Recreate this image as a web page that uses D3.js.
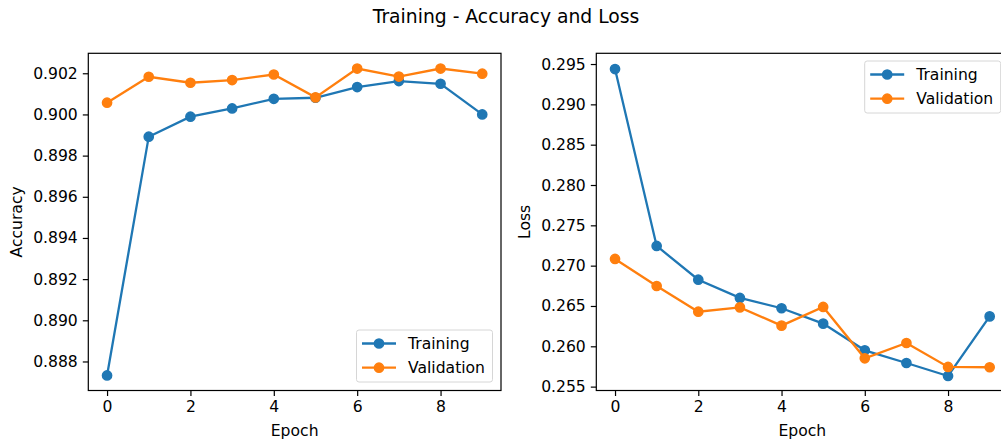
<!DOCTYPE html>
<html>
<head>
<meta charset="utf-8">
<script src="https://cdn.jsdelivr.net/npm/d3@7"></script>
<style>
  body { margin: 0; background: #fff; }
  text { font-family: "DejaVu Sans", sans-serif; fill: #000; }
</style>
</head>
<body>
<div id="chart-area"></div>
<script>
var epochs = [0, 1, 2, 3, 4, 5, 6, 7, 8, 9];
var trainAcc = [0.88732, 0.89892, 0.89989, 0.90029, 0.90076, 0.90081, 0.90133, 0.90162, 0.90149, 0.90000];
var valAcc = [0.90057, 0.90183, 0.90154, 0.90167, 0.90194, 0.90083, 0.90223, 0.90184, 0.90223, 0.90198];
var trainLoss = [0.29438, 0.27244, 0.26826, 0.26600, 0.26472, 0.26281, 0.25950, 0.25793, 0.25632, 0.26371];
var valLoss = [0.27083, 0.26748, 0.26429, 0.26483, 0.26256, 0.26488, 0.25851, 0.26041, 0.25744, 0.25740];
var xTicks = [0, 2, 4, 6, 8];
var accTicks = [0.888, 0.890, 0.892, 0.894, 0.896, 0.898, 0.900, 0.902];
var lossTicks = [0.255, 0.260, 0.265, 0.270, 0.275, 0.280, 0.285, 0.290, 0.295];
var seriesNames = ["Training", "Validation"];
var colors = ["#1f77b4", "#ff7f0e"];

var width = 1001, height = 443;
var fs = "15.6px";
var svg = d3.select("#chart-area").append("svg")
  .attr("width", width)
  .attr("height", height);

svg.append("text")
  .attr("x", 506)
  .attr("y", 23.3)
  .attr("text-anchor", "middle")
  .attr("font-size", "18.75px")
  .text("Training - Accuracy and Loss");

function drawPanel(opts) {
  var w = opts.right - opts.left;
  var h = opts.bottom - opts.top;
  var g = svg.append("g")
    .attr("transform", "translate(" + opts.left + ", " + opts.top + ")");

  var x = d3.scaleLinear().domain([-0.45, 9.45]).range([0, w]);
  var y = d3.scaleLinear().domain(opts.yDomain).range([h, 0]);

  var bottomAxis = d3.axisBottom(x).tickValues(xTicks).tickFormat(d3.format("d"))
    .tickSize(5.5).tickPadding(5).tickSizeOuter(0);
  var gx = g.append("g")
    .attr("transform", "translate(0, " + h + ")")
    .call(bottomAxis);
  var leftAxis = d3.axisLeft(y).tickValues(opts.yTicks).tickFormat(d3.format(".3f"))
    .tickSize(5.5).tickPadding(5).tickSizeOuter(0);
  var gy = g.append("g").call(leftAxis);
  [gx, gy].forEach(function(a) {
    a.select(".domain").remove();
    a.selectAll(".tick line").attr("stroke", "#000").attr("stroke-width", 1.2);
    a.selectAll(".tick text").attr("font-size", fs).attr("fill", "#000")
      .attr("font-family", "DejaVu Sans, sans-serif");
  });

  var line = d3.line()
    .x(function(d, i) { return x(epochs[i]); })
    .y(function(d) { return y(d); });

  opts.series.forEach(function(s, k) {
    g.append("path")
      .datum(s)
      .attr("fill", "none")
      .attr("stroke", colors[k])
      .attr("stroke-width", 2.3)
      .attr("d", line);
    g.selectAll(".dot" + k).data(s).enter().append("circle")
      .attr("class", "dot" + k)
      .attr("cx", function(d, i) { return x(epochs[i]); })
      .attr("cy", function(d) { return y(d); })
      .attr("r", 4.6)
      .attr("fill", colors[k])
      .attr("stroke", colors[k])
      .attr("stroke-width", 1.5);
  });

  g.append("rect")
    .attr("x", 0).attr("y", 0).attr("width", w).attr("height", h)
    .attr("fill", "none").attr("stroke", "#000").attr("stroke-width", 1.2);

  // legend
  var lw = 136, lh = 52;
  var lx = opts.legendPos === "lower" ? w - 8.5 - lw : w - 7.7 - lw;
  var ly = opts.legendPos === "lower" ? h - 8.5 - lh : 7.7;
  var lg = g.append("g").attr("transform", "translate(" + lx + ", " + ly + ")");
  lg.append("rect")
    .attr("width", lw).attr("height", lh).attr("rx", 2.5)
    .attr("fill", "#fff").attr("fill-opacity", 0.8)
    .attr("stroke", "#d6d6d6").attr("stroke-width", 1);
  seriesNames.forEach(function(name, k) {
    var ry = 13.5 + k * 24.2;
    lg.append("line")
      .attr("x1", 5.5).attr("x2", 39.5).attr("y1", ry).attr("y2", ry)
      .attr("stroke", colors[k]).attr("stroke-width", 2.3);
    lg.append("circle")
      .attr("cx", 22.5).attr("cy", ry).attr("r", 4.6)
      .attr("fill", colors[k]).attr("stroke", colors[k]).attr("stroke-width", 1.5);
    lg.append("text")
      .attr("x", 51.5).attr("y", ry + 5.6)
      .attr("font-size", fs)
      .text(name);
  });

  g.append("text")
    .attr("x", w / 2)
    .attr("y", h + 46)
    .attr("text-anchor", "middle")
    .attr("font-size", fs)
    .text("Epoch");

  g.append("text")
    .attr("transform", "rotate(-90)")
    .attr("x", -h / 2)
    .attr("y", opts.ylabelBase - opts.left)
    .attr("text-anchor", "middle")
    .attr("font-size", fs)
    .text(opts.ylabel);
}

drawPanel({
  left: 88.3, right: 501, top: 53.3, bottom: 390.5,
  yDomain: [0.88659, 0.90297], yTicks: accTicks,
  series: [trainAcc, valAcc], legendPos: "lower",
  ylabel: "Accuracy", ylabelBase: 21.5
});

drawPanel({
  left: 596.3, right: 1008.4, top: 53.3, bottom: 390.5,
  yDomain: [0.25452, 0.29633], yTicks: lossTicks,
  series: [trainLoss, valLoss], legendPos: "upper",
  ylabel: "Loss", ylabelBase: 530
});
</script>
</body>
</html>
